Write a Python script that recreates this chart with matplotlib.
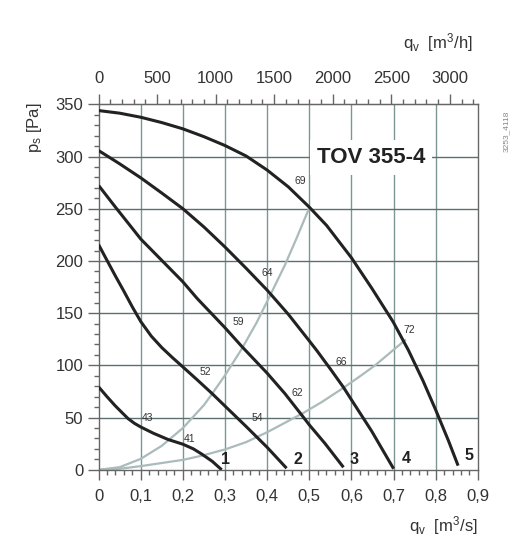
import matplotlib
matplotlib.use("Agg")
import matplotlib.pyplot as plt
from matplotlib.ticker import MultipleLocator, FixedLocator

plt.rcParams['font.family'] = ['Liberation Sans', 'DejaVu Sans']
plt.rcParams['mathtext.fontset'] = 'custom'
plt.rcParams['mathtext.rm'] = 'Liberation Sans'
plt.rcParams['mathtext.it'] = 'Liberation Sans'

# ---- data (qv in m3/s, ps in Pa) ----
c1_x = [0, 0.02, 0.039, 0.055, 0.07, 0.085, 0.1, 0.13, 0.165, 0.2, 0.225, 0.245, 0.27, 0.292]
c1_y = [79.4, 70, 61.5, 55, 49, 44.5, 41, 35, 29, 24.5, 20, 15, 8, 0]
c2_x = [0, 0.02, 0.04, 0.06, 0.08, 0.1, 0.125, 0.15, 0.175, 0.2, 0.233, 0.268, 0.3, 0.35, 0.4, 0.446]
c2_y = [215.6, 200.5, 185.5, 171, 156, 142, 128, 117, 107.5, 98.5, 86.5, 73.5, 61, 41.5, 21.5, 1.5]
c3_x = [0, 0.04, 0.0745, 0.1, 0.15, 0.2, 0.234, 0.3, 0.34, 0.4, 0.442, 0.482, 0.5, 0.537, 0.581]
c3_y = [272.3, 251.5, 234, 221, 200.5, 180, 164, 136, 118, 92.5, 73, 52.4, 43, 25.3, 2.4]
c4_x = [0, 0.05, 0.1, 0.15, 0.2, 0.25, 0.3, 0.35, 0.4, 0.45, 0.5, 0.517, 0.55, 0.581, 0.6, 0.648, 0.7]
c4_y = [305.7, 293, 279.6, 265, 250, 232.5, 213.3, 193, 172, 149, 123.4, 114.6, 96.5, 79, 67, 37, 1]
c5_x = [0, 0.05, 0.1, 0.15, 0.2, 0.25, 0.3, 0.35, 0.4, 0.45, 0.5, 0.541, 0.6, 0.648,
        0.699, 0.735, 0.77, 0.8, 0.83, 0.853]
c5_y = [344, 341.5, 337.6, 332.5, 326.5, 319, 310.5, 300.5, 287, 271, 251.5, 234, 203, 174,
        141.6, 114.6, 85, 57.2, 28, 4]
curves_x = [c1_x, c2_x, c3_x, c4_x, c5_x]
curves_y = [c1_y, c2_y, c3_y, c4_y, c5_y]
curve_names = ['1', '2', '3', '4', '5']
curve_name_pos = [(0.3015, 9.4), (0.4723, 9.4), (0.607, 9.4), (0.7293, 11), (0.8788, 14.1)]

sysA_x = [0, 0.05, 0.1, 0.15, 0.2, 0.25, 0.268, 0.3, 0.34, 0.375, 0.407, 0.442, 0.47, 0.5]
sysA_y = [0, 2.5, 10.5, 23, 40, 62, 72, 90.5, 116, 141, 167, 196, 222, 251]
sysB_x = [0, 0.05, 0.1, 0.15, 0.2, 0.245, 0.3, 0.35, 0.4, 0.442, 0.486, 0.53, 0.581, 0.62,
          0.656, 0.699, 0.727]
sysB_y = [0, 1, 3.5, 6.5, 9.5, 13.5, 19.5, 26.5, 36, 45, 54.5, 65, 78.5, 89.5,
          100, 114.6, 124.1]

eff_labels = ['69', '64', '59', '52', '43', '41', '54', '62', '66', '72']
eff_pos = [(0.479, 277), (0.400, 188.4), (0.3315, 141.6), (0.2525, 93.8), (0.1156, 49.8),
           (0.215, 29.8), (0.3766, 49.8), (0.4723, 73.7), (0.5766, 102.8), (0.7364, 134.3)]

title = 'TOV 355-4'
title_pos = (0.646, 298.8)

bottom_ticks = [0, 0.1, 0.2, 0.3, 0.4, 0.5, 0.6, 0.7, 0.8, 0.9]
bottom_labels = ['0', '0,1', '0,2', '0,3', '0,4', '0,5', '0,6', '0,7', '0,8', '0,9']
left_ticks = [0, 50, 100, 150, 200, 250, 300, 350]
top_ticks = [0, 500, 1000, 1500, 2000, 2500, 3000]

# ---- figure ----
W, H = 526, 542
fig = plt.figure(figsize=(W / 100, H / 100), dpi=100)
ax = fig.add_axes([98.6 / W, 1 - 469.8 / H, (477.9 - 98.6) / W, (469.8 - 104.3) / H])
ax.set_xlim(0, 0.9)
ax.set_ylim(0, 350)

vcol = '#7b9494'
hcol = '#5c7070'
for xv in bottom_ticks[1:-1]:
    ax.axvline(xv, color=vcol, lw=1.0, zorder=1)
for yv in left_ticks[1:-1]:
    ax.axhline(yv, color=hcol, lw=1.0, zorder=1)

for sp in ax.spines.values():
    sp.set_color('#666666')
    sp.set_linewidth(1.0)

ax.plot(sysA_x, sysA_y, color='#abbaba', lw=1.6, zorder=2)
ax.plot(sysB_x, sysB_y, color='#abbaba', lw=1.6, zorder=2)

for xs, ys in zip(curves_x, curves_y):
    ax.plot(xs, ys, color='#222222', lw=2.2, zorder=4, solid_capstyle='butt',
            solid_joinstyle='round')

for name, (px, py) in zip(curve_names, curve_name_pos):
    ax.text(px, py, name, fontsize=11.5, fontweight='bold', color='#222222',
            ha='center', va='center', zorder=5)

for lab, (px, py) in zip(eff_labels, eff_pos):
    ax.text(px, py, lab, fontsize=7.5, color='#333333', ha='center', va='center', zorder=5)

ax.text(title_pos[0], title_pos[1], title, fontsize=16, fontweight='bold', color='#222222',
        ha='center', va='center', zorder=3,
        bbox=dict(boxstyle='square,pad=0.32', fc='white', ec='none'))

ax.xaxis.set_major_locator(FixedLocator(bottom_ticks))
ax.set_xticklabels(bottom_labels)
ax.xaxis.set_minor_locator(MultipleLocator(0.02))
ax.yaxis.set_major_locator(FixedLocator(left_ticks))
ax.yaxis.set_minor_locator(MultipleLocator(10))
ax.tick_params(axis='x', which='major', direction='out', length=7, width=1, color='#666666',
               labelsize=12, pad=7, labelcolor='#333333')
ax.tick_params(axis='x', which='minor', direction='out', length=3.6, width=1, color='#666666')
ax.tick_params(axis='y', which='major', direction='out', length=8, width=1, color='#666666',
               labelsize=12, pad=3, labelcolor='#333333')
ax.tick_params(axis='y', which='minor', direction='out', length=3.6, width=1, color='#666666')

sec = ax.secondary_xaxis('top', functions=(lambda q: q * 3600, lambda q: q / 3600))
sec.xaxis.set_major_locator(FixedLocator(top_ticks))
sec.xaxis.set_minor_locator(MultipleLocator(100))
sec.tick_params(axis='x', which='major', direction='out', length=7, width=1, color='#666666',
                labelsize=12, pad=6, labelcolor='#333333')
sec.tick_params(axis='x', which='minor', direction='out', length=3.6, width=1, color='#666666')
sec.spines['top'].set_color('#666666')

fig.text(35 / W, 1 - 128 / H, r'p$_\mathregular{s}$ [Pa]', rotation=90, fontsize=12,
         ha='center', va='center', color='#333333')
fig.text(473 / W, 1 - 48 / H, r'q$_\mathregular{v}$  [m$^\mathregular{3}$/h]', fontsize=12,
         ha='right', va='baseline', color='#333333')
fig.text(478 / W, 1 - 531 / H, r'q$_\mathregular{v}$  [m$^\mathregular{3}$/s]', fontsize=12,
         ha='right', va='baseline', color='#333333')
fig.text(506 / W, 1 - 131 / H, '3253_4118', rotation=90, fontsize=6,
         ha='center', va='center', color='#888888')

fig.savefig('out.png', dpi=100, facecolor='white')
